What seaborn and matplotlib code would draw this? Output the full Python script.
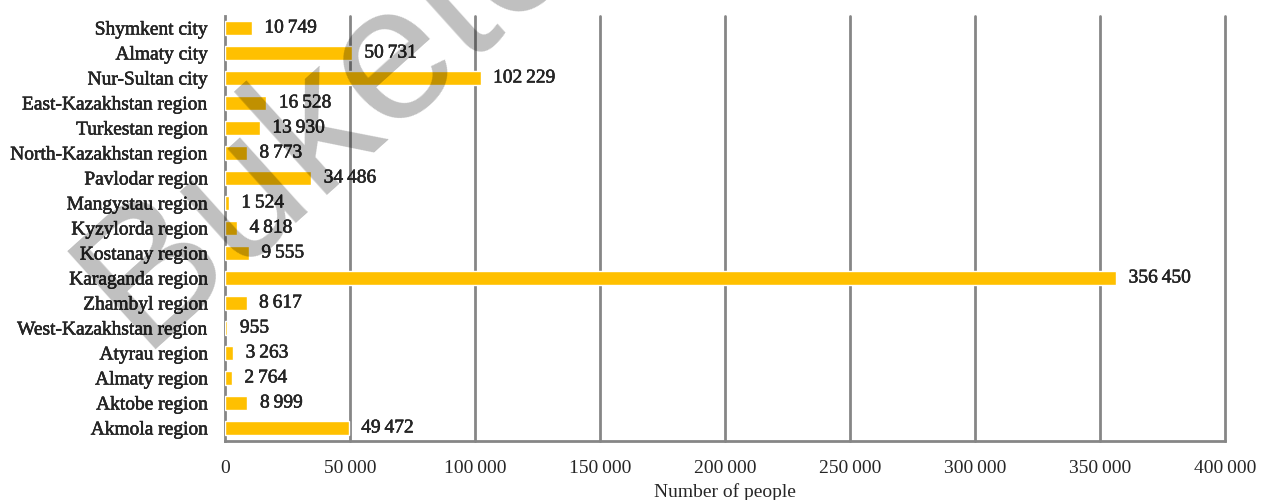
import matplotlib
matplotlib.use("Agg")
import matplotlib.pyplot as plt
import matplotlib.patheffects as pe
import seaborn as sns
import pandas as pd
from matplotlib.ticker import FuncFormatter, FixedLocator

regions = ["Shymkent city", "Almaty city", "Nur-Sultan city", "East-Kazakhstan region",
           "Turkestan region", "North-Kazakhstan region", "Pavlodar region", "Mangystau region",
           "Kyzylorda region", "Kostanay region", "Karaganda region", "Zhambyl region",
           "West-Kazakhstan region", "Atyrau region", "Almaty region", "Aktobe region",
           "Akmola region"]
people = [10749, 50731, 102229, 16528, 13930, 8773, 34486, 1524, 4818, 9555, 356450,
          8617, 955, 3263, 2764, 8999, 49472]
x_ticks = [0, 50000, 100000, 150000, 200000, 250000, 300000, 350000, 400000]
x_label = "Number of people"
watermark = "Buketov"

df = pd.DataFrame({"region": regions, "people": people})

sns.set_style("white")
plt.rcParams["font.family"] = ["Liberation Serif", "DejaVu Serif"]

fig = plt.figure(figsize=(12.67, 5.0), dpi=100)
ax = fig.add_axes([225 / 1267, 1 - 440.5 / 500, 1000 / 1267, 425 / 500])

sns.barplot(data=df, x="people", y="region", orient="h", color="#FFC000",
            saturation=1, width=0.56, ax=ax, zorder=3)

grid_c = "#868686"
ax.set_xlim(0, 400000)
ax.set_ylim(len(regions) - 0.5, -0.5)
ax.xaxis.set_major_locator(FixedLocator(x_ticks))
ax.xaxis.set_major_formatter(FuncFormatter(lambda v, p: f"{int(v):,}".replace(",", "\u2009")))
for v in x_ticks[1:]:
    ax.axvline(v, color=grid_c, lw=2, zorder=1, clip_on=False)

for s in ["top", "right"]:
    ax.spines[s].set_visible(False)
for s in ["left", "bottom"]:
    ax.spines[s].set_color(grid_c)
    ax.spines[s].set_linewidth(2)

ax.tick_params(axis="x", direction="out", length=6, width=2, color=grid_c,
               labelsize=14, pad=8)
ax.tick_params(axis="y", which="major", length=0, labelsize=14, pad=12)
ax.set_yticks([i + 0.5 for i in range(-1, len(regions))], minor=True)
ax.tick_params(axis="y", which="minor", direction="out", length=6, width=2, color=grid_c)

heavy = [pe.withStroke(linewidth=0.35, foreground="black")]
for lbl in ax.get_yticklabels():
    lbl.set_path_effects(heavy)

for i, v in enumerate(people):
    ax.text(v + 5000, i, f"{v:,}".replace(",", "\u2009"), va="center", ha="left",
            fontsize=14, zorder=4, path_effects=heavy)

ax.set_ylabel("")
ax.set_xlabel(x_label, fontsize=14)
ax.xaxis.set_label_coords(0.5, -43 / 425)

fig.text(140 / 1267, 1 - 350 / 500, watermark, rotation=42, rotation_mode="anchor",
         ha="left", va="baseline", fontsize=138, family="Liberation Sans",
         color="black", alpha=0.25, zorder=10)

fig.savefig("out.png", dpi=100)
